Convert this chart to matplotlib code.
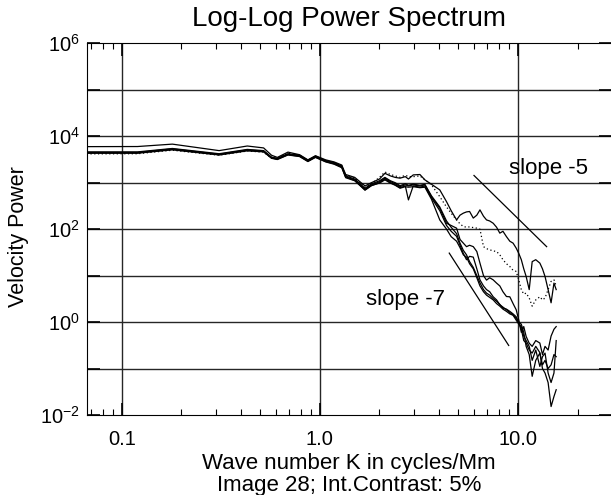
import math

import matplotlib as mpl
mpl.use('Agg')
import matplotlib.pyplot as plt
from matplotlib.ticker import FixedLocator, FuncFormatter, LogLocator, NullFormatter

plt.rcParams['font.family'] = ['Liberation Sans', 'DejaVu Sans']
plt.rcParams['mathtext.fontset'] = 'custom'
plt.rcParams['mathtext.rm'] = 'Liberation Sans'
plt.rcParams['mathtext.default'] = 'regular'

# wave numbers (cycles/Mm)
k_low = [0.0665, 0.12, 0.18, 0.31, 0.43, 0.52, 0.57, 0.61, 0.69, 0.79,
         0.87, 0.95, 1.07, 1.18, 1.29, 1.35, 1.5, 1.69, 1.82]
k_mid = [2.0, 2.13, 2.27, 2.4, 2.54, 2.7, 2.8, 2.96, 3.2, 3.39, 3.66,
         4.03, 4.36, 4.6, 4.9]
k_high = [5.1, 5.3, 5.5, 5.7, 5.95, 6.2, 6.43, 6.7, 6.94, 7.2, 7.5, 7.8,
          8.1, 8.4, 8.75, 9.1, 9.45, 9.8, 10.1, 10.4, 10.7, 11.0, 11.4,
          11.8, 12.3, 12.9, 13.3, 13.7, 14.2, 14.7, 15.2, 15.6]

# velocity power of the individual spectra
power_a = [5970, 6000, 6760, 4900, 6160, 5600, 3900, 3500, 4550, 4000,
           3100, 3800, 3100, 2800, 2400, 1500, 1300, 850, 1000,
           1200, 1590, 1400, 1300, 1250, 1350, 1200, 1470, 1500, 1150, 925,
           700, 390, 250, 158,
           200, 221, 235, 240, 173, 200, 260, 190, 158, 150, 134, 110,
           82, 90, 69, 55, 50, 39, 30, 22, 14, 9.6, 5.0,
           20, 22, 18.6, 14, 9.6, 5.0, 2.6, 6.9, 5.0]
power_b = [4490, 4490, 5330, 4100, 5070, 4800, 3470, 3250, 4100, 3790,
           2960, 3640, 2900, 2600, 2220, 1350, 1150, 725, 897,
           1050, 1250, 1057, 950, 824, 900, 850, 897, 850, 897, 500,
           282, 134, 120, 105,
           60, 50, 42, 45, 42, 33, 18.6, 10, 8, 9, 8.1, 6.9,
           6, 4.5, 3.55, 3.5, 2.5, 1.84, 1.1, 0.6, 0.8, 0.49, 0.35,
           0.3, 0.4, 0.354, 0.2, 0.3, 0.25, 0.5, 0.7, 0.8]
power_c = [4300, 4300, 5100, 3950, 4850, 4600, 3350, 3150, 3950, 3650,
           2850, 3500, 2800, 2500, 2100, 1280, 1100, 690, 860,
           1000, 1200, 1000, 900, 780, 850, 426, 850, 800, 850, 470,
           250, 120, 90, 70,
           45, 30, 22, 26, 25, 14, 8.1, 6, 5, 4.5, 3.5, 3.0,
           2.36, 2.1, 1.84, 1.6, 1.43, 1.2, 0.95, 0.7, 0.4, 0.354, 0.25,
           0.215, 0.3, 0.22, 0.12, 0.15, 0.1, 0.12, 0.2, 0.18]
power_e = [4600, 4600, 5450, 4200, 5200, 4900, 3550, 3350, 4200, 3900,
           3050, 3750, 3000, 2700, 2300, 1400, 1200, 760, 940,
           1100, 1300, 1100, 1000, 860, 950, 880, 930, 880, 920, 520,
           300, 150, 110, 80,
           50, 35, 28, 20, 15, 10, 7, 5, 4.2, 3.8, 3.2, 2.8,
           2.4, 2.0, 1.9, 1.7, 1.5, 1.3, 1.0, 0.9, 0.6, 0.3, 0.2,
           0.068, 0.15, 0.215, 0.1, 0.08, 0.05, 0.0152, 0.025, 0.035]
power_f = [4400, 4400, 5200, 4000, 4950, 4700, 3400, 3200, 4000, 3700,
           2900, 3550, 2850, 2550, 2150, 1320, 1120, 700, 870,
           980, 1150, 980, 880, 760, 820, 800, 820, 780, 800, 440,
           158, 100, 69, 55,
           40, 28, 25, 18, 14, 9, 6, 4.5, 3.8, 3.4, 3.0, 2.5,
           2.2, 1.9, 1.7, 1.5, 1.4, 1.1, 0.9, 0.8, 0.5, 0.4, 0.3,
           0.15, 0.25, 0.111, 0.18, 0.215, 0.08, 0.05, 0.08, 0.4]
power_dotted = [4170, 4200, 5000, 3900, 4800, 4550, 3400, 3300, 4300, 3900,
                3000, 3700, 2950, 2650, 2300, 1450, 1250, 800, 950,
                1300, 1700, 1500, 1400, 1300, 1450, 1350, 1350, 1400, 1150, 900,
                500, 300, 220, 158,
                130, 114, 110, 112, 108, 105, 100, 42, 38, 36, 34, 33,
                28, 22, 18, 15.7, 13, 12.3, 8, 5, 4, 4.2, 3.3,
                2.2, 3.0, 3.5, 3.0, 3.3, 5.0, 7.5, 8.1, 6.0]

# reference slope lines
slope5_k = [6.0, 13.96]
slope5_p = [1430, 42]
slope7_k = [4.5, 8.98]
slope7_p = [30.5, 0.314]

k_all = k_low + k_mid + k_high


def decade_label(v, pos):
    e = round(math.log10(v))
    return r'$10^{%d}$' % e if e % 2 == 0 else ''


fig = plt.figure(figsize=(6.11, 4.95), dpi=100)
ax = fig.add_axes([86.7 / 611, 80 / 495, 524.3 / 611, 371.7 / 495])
ax.set_xscale('log')
ax.set_yscale('log')
ax.set_xlim(0.0665, 29.5)
ax.set_ylim(1e-2, 1e6)

for p in [power_a, power_b, power_c, power_e, power_f]:
    ax.plot(k_all, p, color='black', lw=0.9)
ax.plot(k_all, power_dotted, color='black', lw=0.9, ls=(0, (1, 2)))

ax.plot(slope5_k, slope5_p, color='black', lw=0.9)
ax.plot(slope7_k, slope7_p, color='black', lw=0.9)
ax.text(9.0, 1980, 'slope -5', fontsize=16, ha='left', va='center')
ax.text(1.71, 3.0, 'slope -7', fontsize=16, ha='left', va='center')

# grid
for yy in [1e-1, 1, 10, 1e2, 1e3, 1e4, 1e5]:
    ax.axhline(yy, color='0.15', lw=1.0, zorder=0)
for xx in [0.1, 1.0, 10.0]:
    ax.axvline(xx, color='0.15', lw=1.0, zorder=0)

ax.xaxis.set_major_locator(FixedLocator([0.1, 1.0, 10.0]))
ax.xaxis.set_major_formatter(FuncFormatter(lambda v, pos: '%.1f' % v))
ax.xaxis.set_minor_locator(LogLocator(base=10, subs=range(2, 10)))
ax.xaxis.set_minor_formatter(NullFormatter())
ax.yaxis.set_major_locator(FixedLocator([10.0 ** e for e in range(-2, 7)]))
ax.yaxis.set_minor_locator(FixedLocator([]))
ax.yaxis.set_major_formatter(FuncFormatter(decade_label))
ax.tick_params(which='both', direction='in', top=True, right=True, labelsize=14.5)
ax.tick_params(which='major', length=9, width=1.2)
ax.tick_params(which='minor', length=4.5, width=0.8)
ax.tick_params(axis='x', pad=11)
ax.tick_params(axis='y', pad=5)
ax.spines['right'].set_visible(False)

fig.text(349 / 611, 1 - 19 / 495, 'Log-Log Power Spectrum',
         fontsize=20, ha='center', va='center')
fig.text(19 / 611, 1 - 237 / 495, 'Velocity Power', fontsize=15.5,
         rotation=90, ha='center', va='center')
fig.text(349 / 611, 1 - 463 / 495, 'Wave number K in cycles/Mm',
         fontsize=16, ha='center', va='center')
fig.text(349 / 611, 1 - 485 / 495, 'Image 28; Int.Contrast: 5%',
         fontsize=16, ha='center', va='center')

fig.savefig('out.png', dpi=100)
